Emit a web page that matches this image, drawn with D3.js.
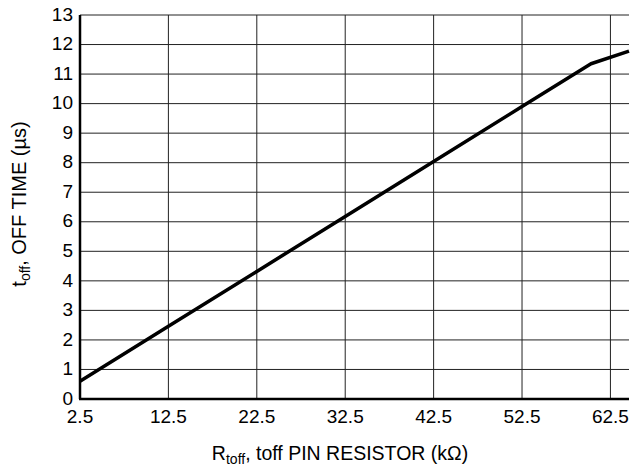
<!DOCTYPE html>
<html>
<head>
<meta charset="utf-8">
<script src="https://cdn.jsdelivr.net/npm/d3@7"></script>
<style>
  body { margin: 0; background: #fff; }
  text { font-family: "Liberation Sans", Arial, Helvetica, sans-serif; fill: #000; }
</style>
</head>
<body>
<svg id="chart"></svg>
<script>
// values
const resistance = [2.5, 12.5, 22.5, 32.5, 42.5, 52.5, 60.3, 64.6];
const offTime = [0.6, 2.46, 4.32, 6.18, 8.04, 9.9, 11.35, 11.78];
const xTicks = [2.5, 12.5, 22.5, 32.5, 42.5, 52.5, 62.5];
const yTicks = d3.range(0, 14);

const W = 632, H = 473;
const margin = { top: 15, right: 3, bottom: 74, left: 80 };

const svg = d3.select("#chart").attr("width", W).attr("height", H);

const x = d3.scaleLinear().domain([2.5, 64.6]).range([margin.left, W - margin.right]);
const y = d3.scaleLinear().domain([0, 13]).range([H - margin.bottom, margin.top]);

// grid
svg.append("g")
  .selectAll("line")
  .data(xTicks.slice(1))
  .join("line")
  .attr("x1", d => x(d)).attr("x2", d => x(d))
  .attr("y1", y(13)).attr("y2", y(0))
  .attr("stroke", "#222").attr("stroke-width", 1);

svg.append("g")
  .selectAll("line")
  .data(yTicks.slice(1))
  .join("line")
  .attr("x1", x(2.5)).attr("x2", x(64.6))
  .attr("y1", d => y(d)).attr("y2", d => y(d))
  .attr("stroke", "#222").attr("stroke-width", 1);

// axes (thicker left/bottom)
svg.append("line")
  .attr("x1", x(2.5)).attr("x2", x(2.5))
  .attr("y1", y(13)).attr("y2", y(0))
  .attr("stroke", "#000").attr("stroke-width", 2.5);
svg.append("line")
  .attr("x1", x(2.5) - 1).attr("x2", x(64.6))
  .attr("y1", y(0)).attr("y2", y(0))
  .attr("stroke", "#000").attr("stroke-width", 2.5);

// tick labels
svg.append("g")
  .selectAll("text")
  .data(yTicks)
  .join("text")
  .attr("x", x(2.5) - 7)
  .attr("y", d => y(d))
  .attr("dy", "0.3em")
  .attr("text-anchor", "end")
  .attr("font-size", 19)
  .text(d => d);

svg.append("g")
  .selectAll("text")
  .data(xTicks)
  .join("text")
  .attr("x", d => x(d))
  .attr("y", y(0) + 24)
  .attr("text-anchor", "middle")
  .attr("font-size", 19)
  .text(d => d3.format(".1f")(d));

// curve
const line = d3.line().x((d, i) => x(resistance[i])).y(d => y(d));
svg.append("path")
  .datum(offTime)
  .attr("fill", "none")
  .attr("stroke", "#000")
  .attr("stroke-width", 3.5)
  .attr("stroke-linejoin", "round")
  .attr("d", line);

// axis titles
const xt = svg.append("text")
  .attr("x", 340).attr("y", 460)
  .attr("text-anchor", "middle")
  .attr("font-size", 19.5);
xt.append("tspan").text("R");
xt.append("tspan").attr("font-size", 14).attr("dy", 4).text("toff");
xt.append("tspan").attr("dy", -4).text(", toff PIN RESISTOR (kΩ)");

const yt = svg.append("text")
  .attr("transform", "translate(26,204) rotate(-90)")
  .attr("text-anchor", "middle")
  .attr("font-size", 20);
yt.append("tspan").text("t");
yt.append("tspan").attr("font-size", 14).attr("dy", 4).text("off");
yt.append("tspan").attr("dy", -4).text(", OFF TIME (µs)");
</script>
</body>
</html>
